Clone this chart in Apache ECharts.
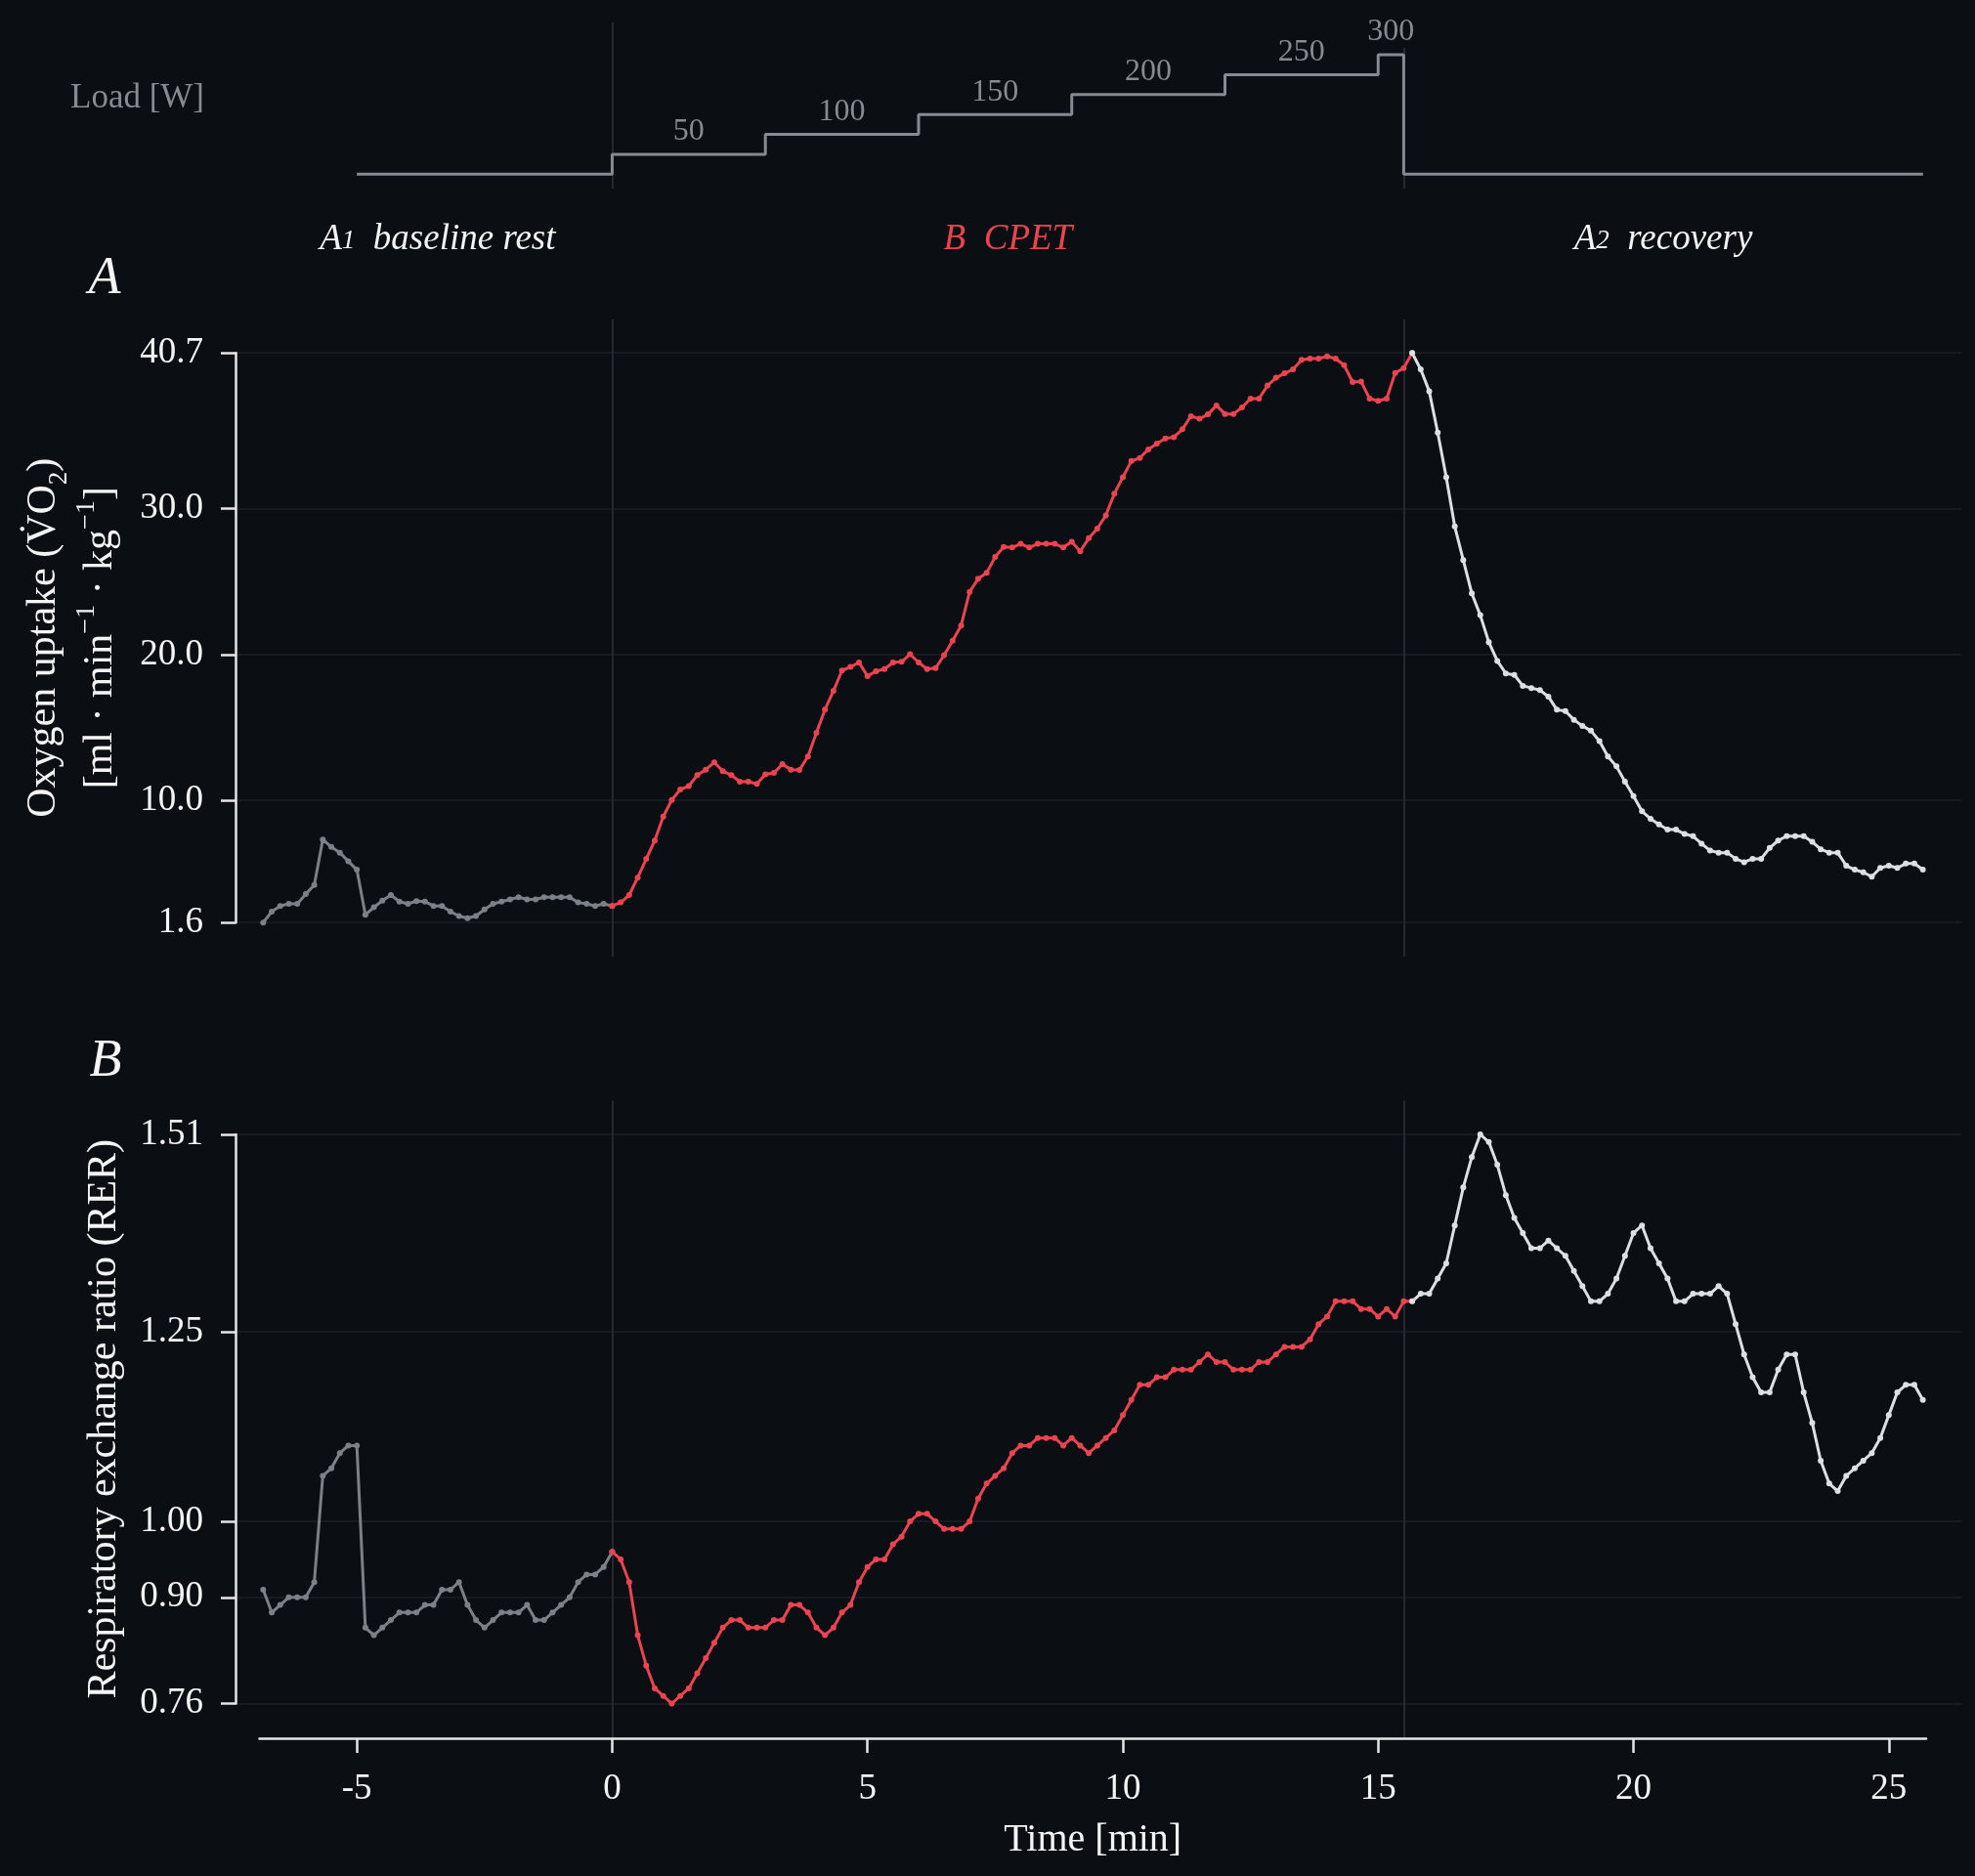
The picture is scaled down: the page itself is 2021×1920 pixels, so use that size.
<!DOCTYPE html>
<html>
<head>
<meta charset="utf-8">
<script src="https://cdn.jsdelivr.net/npm/echarts@6/dist/echarts.min.js"></script>
<style>
html,body{margin:0;padding:0;background:#0b0f14;}
#chart{width:2021px;height:1920px;}
</style>
</head>
<body>
<div id="chart"></div>
<script>
// ---------------- data ----------------
// samples every 10 s; sample index 0 = start of CPET (t = 0 min)
const sampleSeconds = 10;
const restFirstSample = -41;
const cpetFirstSample = 0;
const recoveryFirstSample = 94;

const vo2Rest = [1.6, 2.35, 2.74, 2.89, 2.89, 3.55, 4.18, 7.3, 6.79, 6.4, 5.8, 5.23, 2.14, 2.65, 3.1, 3.49, 3.04, 2.89, 3.07, 3.04,
  2.74, 2.74, 2.35, 2.05, 1.9, 2.05, 2.5, 2.89, 3.04, 3.19, 3.34, 3.19, 3.19, 3.34, 3.34, 3.34, 3.34, 2.98, 2.89, 2.74, 2.89, 2.74];
const vo2Cpet = [2.74, 2.98, 3.49, 4.69, 5.97, 7.23, 8.87, 10.01, 10.73, 10.97,
  11.72, 12.1, 12.6, 12.0, 11.72, 11.27, 11.27, 11.12, 11.78, 11.87,
  12.47, 12.1, 12.07, 13.0, 14.63, 16.22, 17.5, 18.9, 19.15, 19.45,
  18.52, 18.85, 19.0, 19.45, 19.5, 20.02, 19.45, 19.0, 19.06, 19.96,
  20.94, 21.99, 24.3, 25.2, 25.6, 26.7, 27.38, 27.35, 27.6, 27.35,
  27.6, 27.6, 27.6, 27.35, 27.74, 27.08, 27.98, 28.64, 29.54, 31.04,
  32.17, 33.28, 33.49, 34.08, 34.47, 34.83, 34.92, 35.46, 36.36, 36.18,
  36.48, 37.1, 36.51, 36.51, 36.96, 37.56, 37.56, 38.46, 39.0, 39.3,
  39.57, 40.22, 40.31, 40.31, 40.46, 40.31, 39.86, 38.7, 38.73, 37.56,
  37.41, 37.56, 39.33, 39.66, 40.7];
const vo2Recovery = [40.7, 39.57, 38.07, 35.23, 32.17, 28.79, 26.48, 24.2, 22.7, 20.85,
  19.56, 18.7, 18.6, 17.85, 17.7, 17.56, 17.11, 16.21, 16.12, 15.52,
  15.1, 14.77, 14.05, 13.0, 12.32, 11.27, 10.28, 9.24, 8.73, 8.34,
  7.98, 7.98, 7.68, 7.53, 7.02, 6.54, 6.4, 6.4, 5.98, 5.74,
  5.98, 5.98, 6.72, 7.23, 7.53, 7.53, 7.53, 7.14, 6.63, 6.4,
  6.4, 5.5, 5.23, 5.05, 4.75, 5.35, 5.5, 5.35, 5.65, 5.65, 5.23];

const rerRest = [0.91, 0.88, 0.89, 0.90, 0.90, 0.90, 0.92, 1.06, 1.07, 1.09, 1.10, 1.10, 0.86, 0.85, 0.86, 0.87, 0.88, 0.88, 0.88, 0.89,
  0.89, 0.91, 0.91, 0.92, 0.89, 0.87, 0.86, 0.87, 0.88, 0.88, 0.88, 0.89, 0.87, 0.87, 0.88, 0.89, 0.90, 0.92, 0.93, 0.93, 0.94, 0.96];
const rerCpet = [0.96, 0.95, 0.92, 0.85, 0.81, 0.78, 0.77, 0.76, 0.77, 0.78,
  0.80, 0.82, 0.84, 0.86, 0.87, 0.87, 0.86, 0.86, 0.86, 0.87,
  0.87, 0.89, 0.89, 0.88, 0.86, 0.85, 0.86, 0.88, 0.89, 0.92,
  0.94, 0.95, 0.95, 0.97, 0.98, 1.00, 1.01, 1.01, 1.00, 0.99,
  0.99, 0.99, 1.00, 1.03, 1.05, 1.06, 1.07, 1.09, 1.10, 1.10,
  1.11, 1.11, 1.11, 1.10, 1.11, 1.10, 1.09, 1.10, 1.11, 1.12,
  1.14, 1.16, 1.18, 1.18, 1.19, 1.19, 1.20, 1.20, 1.20, 1.21,
  1.22, 1.21, 1.21, 1.20, 1.20, 1.20, 1.21, 1.21, 1.22, 1.23,
  1.23, 1.23, 1.24, 1.26, 1.27, 1.29, 1.29, 1.29, 1.28, 1.28,
  1.27, 1.28, 1.27, 1.29, 1.29];
const rerRecovery = [1.29, 1.30, 1.30, 1.32, 1.34, 1.39, 1.44, 1.48, 1.51, 1.50,
  1.47, 1.43, 1.40, 1.38, 1.36, 1.36, 1.37, 1.36, 1.35, 1.33,
  1.31, 1.29, 1.29, 1.30, 1.32, 1.35, 1.38, 1.39, 1.36, 1.34,
  1.32, 1.29, 1.29, 1.30, 1.30, 1.30, 1.31, 1.30, 1.26, 1.22,
  1.19, 1.17, 1.17, 1.20, 1.22, 1.22, 1.17, 1.13, 1.08, 1.05,
  1.04, 1.06, 1.07, 1.08, 1.09, 1.11, 1.14, 1.17, 1.18, 1.18, 1.16];

// load protocol (change points)
const loadTimes = [-5, 0, 3, 6, 9, 12, 15, 15.5, 25.67];
const loadWatts = [0, 50, 100, 150, 200, 250, 300, 0, 0];

// phases
const phaseBoundaries = [0, 15.5];
const phaseLetters = ['A', 'B', 'A'];
const phaseSubs = ['1', '', '2'];
const phaseNames = ['baseline rest', 'CPET', 'recovery'];

// tick labels
const vo2Ticks = [1.6, 10, 20, 30, 40.7];
const rerTicks = [0.76, 0.90, 1.00, 1.25, 1.51];
const timeTicks = [-5, 0, 5, 10, 15, 20, 25];

// ---------------- build ----------------
const BG = '#0b0f14';
const FONT = '"Liberation Serif", "DejaVu Serif", serif';
const TEXT = '#f4f4f4';
const AXIS = '#e6e6e6';
const GRIDC = '#1a2025';
const VLINE = '#232a30';
const GREY = '#7b8186';
const RED = '#ea4450';
const WHITE = '#dde0e3';
const LOADC = '#858b90';

const X_MIN = -7.376, X_MAX = 26.42;

function seriesData(first, values) {
  return values.map((v, i) => [(first + i) * sampleSeconds / 60, v]);
}
const lastSampleTime = (recoveryFirstSample + vo2Recovery.length - 1) * sampleSeconds / 60;
const firstSampleTime = restFirstSample * sampleSeconds / 60;

const loadLabelData = [];
for (let i = 0; i < loadTimes.length - 1; i++) {
  if (loadWatts[i] > 0) loadLabelData.push([(loadTimes[i] + loadTimes[i + 1]) / 2, loadWatts[i]]);
}

const phaseStarts = [firstSampleTime, phaseBoundaries[0], phaseBoundaries[1]];
const phaseEnds = [phaseBoundaries[0], phaseBoundaries[1], lastSampleTime];
const phaseColors = [TEXT, RED, TEXT];
const phaseData = phaseNames.map((n, i) => ({
  value: [(phaseStarts[i] + phaseEnds[i]) / 2, 0.5],
  label: {
    color: phaseColors[i],
    formatter: '{l|' + phaseLetters[i] + '}' + (phaseSubs[i] ? '{n|' + phaseSubs[i] + '}' : '') + '{l|  ' + n + '}',
    rich: {
      l: {fontFamily: FONT, fontStyle: 'italic', fontSize: 37, lineHeight: 50, color: phaseColors[i]},
      n: {fontFamily: FONT, fontStyle: 'italic', fontSize: 27, lineHeight: 50, verticalAlign: 'middle', color: phaseColors[i], padding: [4, 0, 0, 0]}
    }
  }
}));

const gridBase = {left: 241, right: 14, containLabel: false, outerBoundsMode: 'none'};
const grids = [
  Object.assign({}, gridBase, {top: 23, height: 170}),      // 0 load
  Object.assign({}, gridBase, {top: 203, height: 84}),      // 1 phase labels
  Object.assign({}, gridBase, {top: 327, height: 652}),     // 2 A outer (phase lines)
  Object.assign({}, gridBase, {top: 361.2, height: 583}),   // 3 A main
  Object.assign({}, gridBase, {top: 1126.5, height: 652.5}),// 4 B outer
  Object.assign({}, gridBase, {top: 1161, height: 582.5}),  // 5 B main
  {left: 265.5, right: 50, top: 1700, height: 79, containLabel: false, outerBoundsMode: 'none'} // 6 time axis
];

function phaseLineXAxis(gi) {
  return {
    gridIndex: gi, type: 'value', min: X_MIN, max: X_MAX,
    axisLine: {show: false},
    axisTick: {show: false, customValues: phaseBoundaries},
    axisLabel: {show: false, customValues: phaseBoundaries},
    splitLine: {show: true, lineStyle: {color: VLINE, width: 2}}
  };
}
function hiddenX(gi) { return {gridIndex: gi, type: 'value', min: X_MIN, max: X_MAX, show: false}; }
function hiddenY(gi, mn, mx) { return {gridIndex: gi, type: 'value', min: mn, max: mx, show: false}; }

function valueYAxis(gi, mn, mx, ticks, digits, extra) {
  return Object.assign({
    gridIndex: gi, type: 'value', min: mn, max: mx, position: 'left',
    axisLine: {show: true, onZero: false, lineStyle: {color: AXIS, width: 2.5}},
    axisTick: {show: true, customValues: ticks, length: 15, lineStyle: {color: AXIS, width: 2.5}},
    axisLabel: {customValues: ticks, formatter: v => Number(v).toFixed(digits), color: TEXT, fontSize: 37, fontFamily: FONT, margin: 33},
    splitLine: {show: true, lineStyle: {color: GRIDC, width: 1.5}}
  }, extra);
}

const xAxes = [
  phaseLineXAxis(0),
  hiddenX(1),
  phaseLineXAxis(2),
  hiddenX(3),
  phaseLineXAxis(4),
  hiddenX(5),
  {
    gridIndex: 6, type: 'value', min: -6.907, max: 25.731, position: 'bottom',
    axisLine: {show: true, onZero: false, lineStyle: {color: AXIS, width: 2.5}},
    axisTick: {show: true, customValues: timeTicks, length: 15, lineStyle: {color: AXIS, width: 2.5}},
    axisLabel: {customValues: timeTicks, color: TEXT, fontSize: 37, fontFamily: FONT, margin: 34},
    splitLine: {show: false},
    name: 'Time [min]', nameLocation: 'middle', nameGap: 84,
    nameTextStyle: {color: TEXT, fontSize: 40, fontFamily: FONT}
  }
];

const yAxes = [
  hiddenY(0, -36, 381),
  hiddenY(1, 0, 1),
  hiddenY(2, 0, 1),
  valueYAxis(3, 1.6, 40.7, vo2Ticks, 1, {
    name: '{a|Oxygen uptake (V\u0307O}{s|2}{a|)}\n{a|[ml · min}{p|\u22121}{a| · kg}{p|\u22121}{a|]}',
    nameLocation: 'middle', nameRotate: 90, nameGap: 99,
    nameTextStyle: {
      color: TEXT, fontFamily: FONT, fontSize: 42, lineHeight: 58,
      rich: {
        a: {fontFamily: FONT, fontSize: 42, lineHeight: 58, color: TEXT},
        s: {fontFamily: FONT, fontSize: 27, lineHeight: 38, verticalAlign: 'bottom', color: TEXT},
        p: {fontFamily: FONT, fontSize: 28, lineHeight: 38, verticalAlign: 'top', color: TEXT}
      }
    }
  }),
  hiddenY(4, 0, 1),
  valueYAxis(5, 0.76, 1.51, rerTicks, 2, {
    name: 'Respiratory exchange ratio (RER)',
    nameLocation: 'middle', nameRotate: 90, nameGap: 108,
    nameTextStyle: {color: TEXT, fontFamily: FONT, fontSize: 42, lineHeight: 50}
  }),
  hiddenY(6, 0, 1)
];

function lineSeries(xi, data, color, z) {
  return {
    type: 'line', xAxisIndex: xi, yAxisIndex: xi, data: data,
    symbol: 'circle', symbolSize: 6, showSymbol: true,
    lineStyle: {color: color, width: 3}, itemStyle: {color: color, opacity: 1},
    z: z, silent: true
  };
}

const option = {
  backgroundColor: BG,
  animation: false,
  textStyle: {fontFamily: FONT},
  grid: grids,
  xAxis: xAxes,
  yAxis: yAxes,
  graphic: [
    {type: 'text', x: 72, y: 101, style: {text: 'Load [W]', fill: LOADC, font: '35px "Liberation Serif"', align: 'left', verticalAlign: 'middle', textAlign: 'left', textVerticalAlign: 'middle'}},
    {type: 'text', x: 107, y: 286, style: {text: 'A', fill: TEXT, font: 'italic 54px "Liberation Serif"', align: 'center', verticalAlign: 'middle', textAlign: 'center', textVerticalAlign: 'middle'}},
    {type: 'text', x: 108, y: 1087, style: {text: 'B', fill: TEXT, font: 'italic 54px "Liberation Serif"', align: 'center', verticalAlign: 'middle', textAlign: 'center', textVerticalAlign: 'middle'}}
  ],
  series: [
    {
      type: 'line', xAxisIndex: 0, yAxisIndex: 0, step: 'end',
      data: loadTimes.map((t, i) => [t, loadWatts[i]]),
      symbol: 'none', lineStyle: {color: LOADC, width: 3}, z: 3, silent: true
    },
    {
      type: 'scatter', xAxisIndex: 0, yAxisIndex: 0, data: loadLabelData,
      symbolSize: 0, silent: true, z: 4, itemStyle: {opacity: 1},
      label: {show: true, position: 'top', distance: 7, formatter: p => String(p.value[1]),
        color: LOADC, opacity: 1, fontSize: 32, fontFamily: FONT, backgroundColor: BG, padding: [0, 2, 0, 2]}
    },
    {
      type: 'scatter', xAxisIndex: 1, yAxisIndex: 1, data: phaseData,
      symbolSize: 0, silent: true, itemStyle: {opacity: 1},
      label: {show: true, position: 'inside', opacity: 1, fontFamily: FONT}
    },
    lineSeries(3, seriesData(restFirstSample, vo2Rest), GREY, 3),
    lineSeries(3, seriesData(cpetFirstSample, vo2Cpet), RED, 4),
    lineSeries(3, seriesData(recoveryFirstSample, vo2Recovery), WHITE, 4),
    lineSeries(5, seriesData(restFirstSample, rerRest), GREY, 3),
    lineSeries(5, seriesData(cpetFirstSample, rerCpet), RED, 4),
    lineSeries(5, seriesData(recoveryFirstSample, rerRecovery), WHITE, 4)
  ]
};

const chart = echarts.init(document.getElementById('chart'), null, {renderer: 'canvas'});
chart.setOption(option);
</script>
</body>
</html>
